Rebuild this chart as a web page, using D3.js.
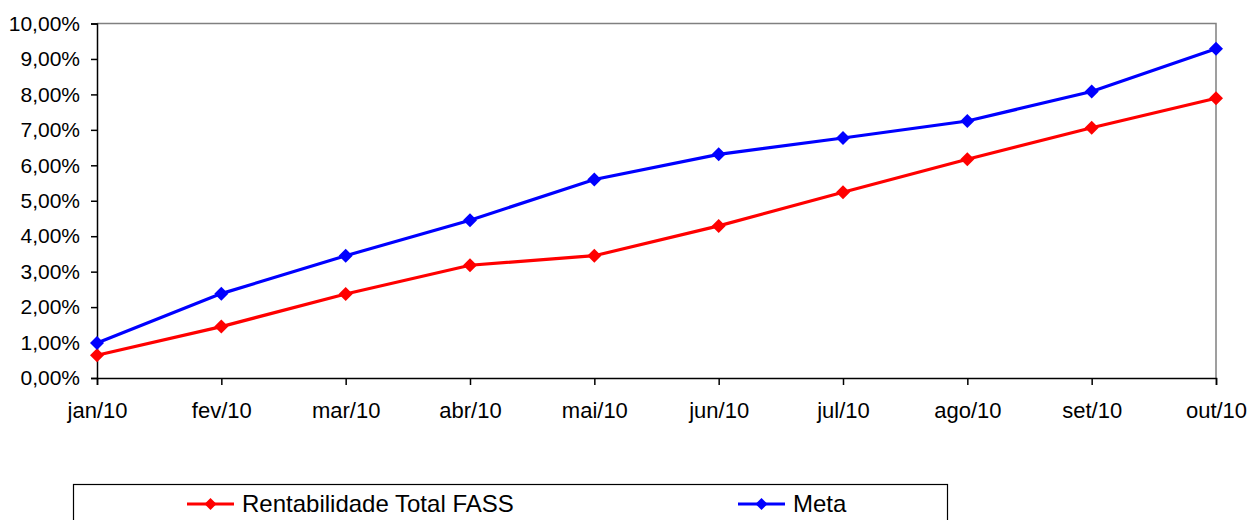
<!DOCTYPE html>
<html>
<head>
<meta charset="utf-8">
<script src="https://cdn.jsdelivr.net/npm/d3@7"></script>
<style>
  body { margin: 0; background: #fff; }
  text { font-family: "Liberation Sans", Arial, sans-serif; fill: #000; }
</style>
</head>
<body>
<div id="chart"></div>
<script>
const months = ["jan/10", "fev/10", "mar/10", "abr/10", "mai/10", "jun/10", "jul/10", "ago/10", "set/10", "out/10"];
const rentabilidade = [0.64, 1.45, 2.37, 3.18, 3.45, 4.29, 5.24, 6.17, 7.06, 7.89];
const meta = [0.99, 2.38, 3.45, 4.45, 5.60, 6.31, 6.77, 7.25, 8.08, 9.29];
const yTicks = [0, 1, 2, 3, 4, 5, 6, 7, 8, 9, 10];

const margin = { top: 23.5, right: 36, bottom: 142, left: 97 };
const width = 1252 - margin.left - margin.right;
const height = 520 - margin.top - margin.bottom;

const svg = d3.select("#chart")
  .append("svg")
  .attr("width", 1252)
  .attr("height", 520)
  .append("g")
  .attr("transform", `translate(${margin.left}, ${margin.top})`);

const xScale = d3.scalePoint().domain(months).range([0, width]).padding(0);
const yScale = d3.scaleLinear().domain([0, 10]).range([height, 0]);

const fmt = v => v.toFixed(2).replace(".", ",") + "%";

// plot frame: gray top and right edges
svg.append("path")
  .attr("d", `M0,0H${width}V${height}`)
  .attr("fill", "none")
  .attr("stroke", "#808080")
  .attr("stroke-width", 1.5);

const yAxis = svg.append("g")
  .call(d3.axisLeft(yScale).tickValues(yTicks).tickFormat(fmt).tickSize(6).tickPadding(11));

const xAxis = svg.append("g")
  .attr("transform", `translate(0, ${height})`)
  .call(d3.axisBottom(xScale).tickSize(7).tickPadding(17));

[yAxis, xAxis].forEach(ax => {
  ax.select(".domain").attr("stroke", "#000").attr("stroke-width", 1.5);
  ax.selectAll(".tick line").attr("stroke", "#000").attr("stroke-width", 1.5);
  ax.selectAll("text").style("font-family", "'Liberation Sans', Arial, sans-serif").attr("fill", "#000");
});
yAxis.selectAll("text").style("font-size", "21px");
xAxis.selectAll("text").style("font-size", "22px");

const diamond = (cx, cy, r) => `M${cx},${cy - r}L${cx + r},${cy}L${cx},${cy + r}L${cx - r},${cy}Z`;

const series = [
  { name: "Rentabilidade Total FASS", values: rentabilidade, color: "#ff0000" },
  { name: "Meta", values: meta, color: "#0000ff" }
];

const line = d3.line()
  .x((d, i) => xScale(months[i]))
  .y(d => yScale(d));

series.forEach(s => {
  svg.append("path")
    .datum(s.values)
    .attr("d", line)
    .attr("fill", "none")
    .attr("stroke", s.color)
    .attr("stroke-width", 3.2);

  svg.selectAll(null)
    .data(s.values)
    .enter()
    .append("path")
    .attr("d", (d, i) => diamond(xScale(months[i]), yScale(d), 7))
    .attr("fill", s.color);
});

// legend
const legend = d3.select("svg").append("g");
legend.append("rect")
  .attr("x", 73.5)
  .attr("y", 484.5)
  .attr("width", 874)
  .attr("height", 60)
  .attr("fill", "#fff")
  .attr("stroke", "#000")
  .attr("stroke-width", 1.2);

const legendPos = [187, 738];
series.forEach((s, i) => {
  const lx = legendPos[i];
  const ly = 504;
  legend.append("line")
    .attr("x1", lx).attr("x2", lx + 47)
    .attr("y1", ly).attr("y2", ly)
    .attr("stroke", s.color)
    .attr("stroke-width", 3.2);
  legend.append("path")
    .attr("d", diamond(lx + 23.5, ly, 6))
    .attr("fill", s.color);
  legend.append("text")
    .attr("x", lx + 55)
    .attr("y", ly + 8)
    .style("font-size", "24px")
    .text(s.name);
});
</script>
</body>
</html>
